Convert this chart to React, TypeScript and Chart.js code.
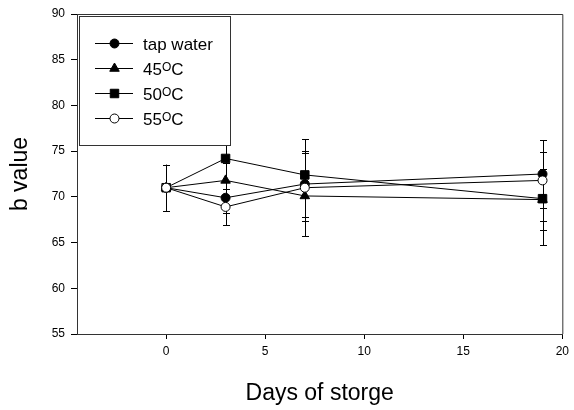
import React, { useEffect, useRef } from "react";
import { Chart, registerables } from "chart.js";

Chart.register(...registerables);

const FONT = "'Liberation Sans', Arial, Helvetica, sans-serif";

// ---- data ----
const days = [0, 3, 7, 19];
const tapWater = [71.0, 69.9, 71.4, 72.5];
const temp45 = [71.0, 71.8, 70.1, 69.7];
const temp50 = [71.0, 74.2, 72.4, 69.8];
const temp55 = [71.0, 68.9, 71.0, 71.8];
const tapWaterErr = [2.5, 1.7, 3.6, 3.7];
const temp45Err = [2.5, 1.9, 2.7, 3.3];
const temp50Err = [2.5, 2.5, 2.4, 5.1];
const temp55Err = [2.5, 2.0, 5.3, 4.4];
const xTicks = [0, 5, 10, 15, 20];
const yTicks = [55, 60, 65, 70, 75, 80, 85, 90];
const legendMain = ["tap water", "45", "50", "55"];
const legendSup = ["", "O", "O", "O"];
const legendSuffix = ["", "C", "C", "C"];
const xTitle = "Days of storge";
const yTitle = "b value";

const seriesValues = [tapWater, temp45, temp50, temp55];
const seriesErrors = [tapWaterErr, temp45Err, temp50Err, temp55Err];
const seriesStyles = ["circle", "triangle", "rect", "circle"];
const seriesFills = ["#000000", "#000000", "#000000", "#ffffff"];
const seriesRadius = [4.5, 5.5, 6, 4.5];

function drawMarker(ctx: CanvasRenderingContext2D, style: string, x: number, y: number, r: number, fill: string) {
  ctx.save();
  ctx.fillStyle = fill;
  ctx.strokeStyle = "#000";
  ctx.lineWidth = 1;
  ctx.beginPath();
  if (style === "circle") {
    ctx.arc(x, y, r, 0, Math.PI * 2);
  } else if (style === "triangle") {
    const h = r * 1.5;
    const half = (r * Math.sqrt(3)) / 2;
    ctx.moveTo(x, y - r);
    ctx.lineTo(x + half, y - r + h);
    ctx.lineTo(x - half, y - r + h);
    ctx.closePath();
  } else {
    const s = r * Math.SQRT1_2;
    ctx.rect(x - s, y - s, s * 2, s * 2);
  }
  ctx.fill();
  ctx.stroke();
  ctx.restore();
}

const errorBarPlugin = {
  id: "errorBars",
  beforeDatasetsDraw(chart: any) {
    const ctx = chart.ctx as CanvasRenderingContext2D;
    const ys = chart.scales.y;
    ctx.save();
    ctx.strokeStyle = "#000";
    ctx.lineWidth = 1;
    chart.data.datasets.forEach((ds: any, i: number) => {
      const meta = chart.getDatasetMeta(i);
      meta.data.forEach((pt: any, j: number) => {
        const v = seriesValues[i][j];
        const e = seriesErrors[i][j];
        const x = Math.round(pt.x) + 0.5;
        const yTop = ys.getPixelForValue(v + e);
        const yBot = ys.getPixelForValue(v - e);
        ctx.beginPath();
        ctx.moveTo(x, yTop);
        ctx.lineTo(x, yBot);
        ctx.moveTo(x - 3.5, Math.round(yTop) + 0.5);
        ctx.lineTo(x + 3.5, Math.round(yTop) + 0.5);
        ctx.moveTo(x - 3.5, Math.round(yBot) + 0.5);
        ctx.lineTo(x + 3.5, Math.round(yBot) + 0.5);
        ctx.stroke();
      });
    });
    ctx.restore();
  },
};

const frameLegendPlugin = {
  id: "frameLegend",
  afterDatasetsDraw(chart: any) {
    const ctx = chart.ctx as CanvasRenderingContext2D;
    const a = chart.chartArea;
    ctx.save();
    // top and right frame
    ctx.strokeStyle = "#333";
    ctx.lineWidth = 1;
    ctx.beginPath();
    ctx.moveTo(a.left, a.top + 0.5);
    ctx.lineTo(a.right + 0.5, a.top + 0.5);
    ctx.lineTo(a.right + 0.5, a.bottom);
    ctx.stroke();

    // legend box
    const bx = a.left + 2;
    const by = a.top + 2;
    const bw = 151;
    const bh = 129;
    ctx.fillStyle = "#fff";
    ctx.fillRect(bx, by, bw, bh);
    ctx.strokeStyle = "#333";
    ctx.strokeRect(bx + 0.5, by + 0.5, bw, bh);

    for (let i = 0; i < legendMain.length; i++) {
      const rowY = a.top + 29.5 + i * 25;
      ctx.strokeStyle = "#000";
      ctx.beginPath();
      ctx.moveTo(a.left + 18, rowY);
      ctx.lineTo(a.left + 56, rowY);
      ctx.stroke();
      drawMarker(ctx, seriesStyles[i], a.left + 37.5, rowY, seriesRadius[i], seriesFills[i]);

      let tx = a.left + 66;
      ctx.fillStyle = "#000";
      ctx.textBaseline = "alphabetic";
      ctx.textAlign = "left";
      ctx.font = `17px ${FONT}`;
      ctx.fillText(legendMain[i], tx, rowY + 6.5);
      tx += ctx.measureText(legendMain[i]).width;
      if (legendSup[i]) {
        ctx.font = `12px ${FONT}`;
        ctx.fillText(legendSup[i], tx, rowY + 2.5);
        tx += ctx.measureText(legendSup[i]).width;
      }
      if (legendSuffix[i]) {
        ctx.font = `17px ${FONT}`;
        ctx.fillText(legendSuffix[i], tx, rowY + 6.5);
      }
    }
    ctx.restore();
  },
};

export default function App() {
  const canvasRef = useRef<HTMLCanvasElement | null>(null);

  useEffect(() => {
    if (!canvasRef.current) return;
    Chart.defaults.font.family = FONT;
    const datasets = seriesValues.map((vals, i) => ({
      label: legendMain[i] + legendSup[i] + legendSuffix[i],
      data: days.map((d, j) => ({ x: d, y: vals[j] })),
      borderColor: "#000",
      borderWidth: 1,
      backgroundColor: seriesFills[i],
      pointStyle: seriesStyles[i] as any,
      pointRadius: seriesRadius[i],
      pointHoverRadius: seriesRadius[i],
      pointBackgroundColor: seriesFills[i],
      pointBorderColor: "#000",
      pointBorderWidth: 1,
      tension: 0,
      fill: false,
      order: 4 - i,
    }));

    const chart = new Chart(canvasRef.current, {
      type: "line",
      data: { datasets },
      options: {
        animation: false,
        responsive: false,
        devicePixelRatio: 1,
        layout: { padding: { top: 14, right: 8, left: 0, bottom: 0 } },
        plugins: { legend: { display: false }, tooltip: { enabled: false } },
        scales: {
          x: {
            type: "linear",
            min: -4.5,
            max: 20,
            afterBuildTicks: (s: any) => {
              s.ticks = xTicks.map((v) => ({ value: v }));
            },
            afterFit: (s: any) => {
              s.height = 76;
            },
            grid: { drawOnChartArea: false, drawTicks: true, tickLength: 5, color: "#000" },
            border: { color: "#333", width: 1 },
            ticks: { font: { size: 12, family: FONT }, color: "#000", padding: 5, maxRotation: 0, autoSkip: false },
            title: {
              display: true,
              text: xTitle,
              color: "#000",
              font: { size: 23, family: FONT },
              padding: { top: 0, bottom: 2.5 },
            },
          },
          y: {
            type: "linear",
            min: 55,
            max: 90,
            afterBuildTicks: (s: any) => {
              s.ticks = yTicks.map((v) => ({ value: v }));
            },
            afterFit: (s: any) => {
              s.width = 77;
            },
            grid: { drawOnChartArea: false, drawTicks: true, tickLength: 6, color: "#000" },
            border: { color: "#333", width: 1 },
            ticks: { font: { size: 12, family: FONT }, color: "#000", padding: 6, autoSkip: false },
            title: {
              display: true,
              text: yTitle,
              color: "#000",
              font: { size: 23, family: FONT },
              padding: { top: 6.7, bottom: 0 },
            },
          },
        },
      },
      plugins: [errorBarPlugin, frameLegendPlugin],
    });
    return () => chart.destroy();
  }, []);

  return (
    <div style={{ position: "fixed", left: 0, top: 0, width: 574, height: 410, background: "#fff" }}>
      <canvas ref={canvasRef} width={574} height={410} style={{ width: 574, height: 410, display: "block" }} />
    </div>
  );
}
